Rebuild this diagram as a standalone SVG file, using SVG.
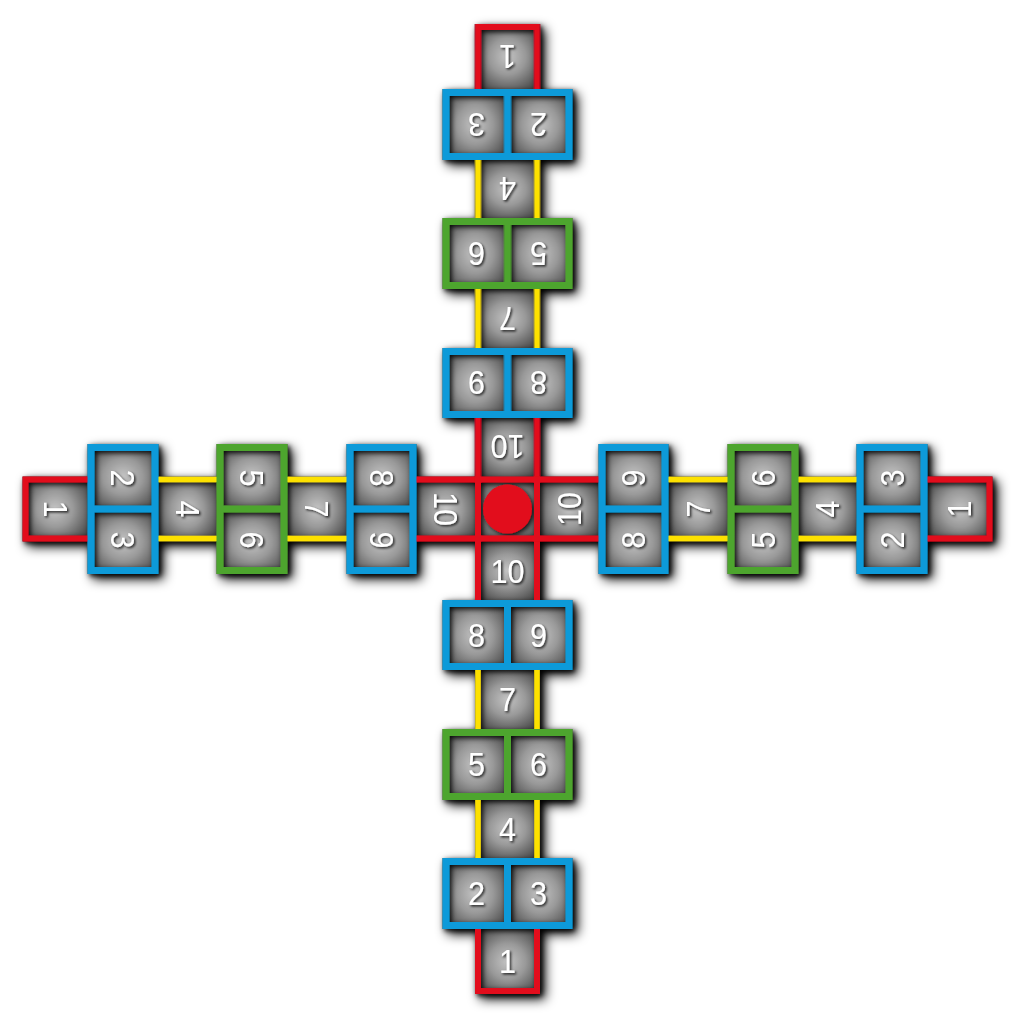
<svg xmlns="http://www.w3.org/2000/svg" width="1024" height="1023" viewBox="0 0 1024 1023">
<style>
.r{stroke:#e2081a;stroke-width:6;fill:none}
.y{stroke:#fde100;stroke-width:5.5;fill:none}
.b{stroke:#0a9ad9;stroke-width:7;fill:none}
.g{stroke:#4ea52e;stroke-width:7;fill:none}
.c{fill:url(#cg)}
text{font-family:"Liberation Sans",Arial,sans-serif;font-size:34px;fill:#fff;text-anchor:middle;transform-box:fill-box;transform-origin:center;transform:scaleX(0.9)}
</style>
<defs>
<radialGradient id="cg" cx="50%" cy="50%" r="62%">
<stop offset="0" stop-color="#c4c4c4"/>
<stop offset="0.45" stop-color="#999"/>
<stop offset="1" stop-color="#484848"/>
</radialGradient>
<filter id="os" x="-10%" y="-10%" width="120%" height="120%">
<feGaussianBlur in="SourceAlpha" stdDeviation="6"/>
<feOffset dx="5" dy="5"/>
</filter>
<filter id="ds" x="-10%" y="-10%" width="120%" height="120%">
<feDropShadow dx="2" dy="2" stdDeviation="2.4" flood-color="#000" flood-opacity="0.9"/>
</filter>
<filter id="ts" x="-10%" y="-10%" width="120%" height="120%">
<feDropShadow dx="1.5" dy="1.5" stdDeviation="1.2" flood-color="#000" flood-opacity="0.8"/>
</filter>
<g id="armS">
<rect x="-32.5" y="26" width="65" height="459"/>
<rect x="-65" y="91" width="130" height="70"/>
<rect x="-65" y="220" width="130" height="71"/>
<rect x="-65" y="349" width="130" height="71"/>
</g>
<g id="armF">
<rect class="c" x="-32.5" y="32" width="65" height="59"/>
<rect class="c" x="-65" y="91" width="65" height="70"/>
<rect class="c" x="0" y="91" width="65" height="70"/>
<rect class="c" x="-32.5" y="161" width="65" height="59"/>
<rect class="c" x="-65" y="220" width="65" height="71"/>
<rect class="c" x="0" y="220" width="65" height="71"/>
<rect class="c" x="-32.5" y="291" width="65" height="58"/>
<rect class="c" x="-65" y="349" width="65" height="71"/>
<rect class="c" x="0" y="349" width="65" height="71"/>
<rect class="c" x="-32.5" y="420" width="65" height="65"/>
</g>
<g id="armB">
<path class="r" d="M-29.5 26V95M29.5 26V95"/>
<path class="y" d="M-29.5 157V224M29.5 157V224M-29.5 287V353M29.5 287V353"/>
<path class="r" d="M-29.5 416V482H29.5V416"/>
<rect class="b" x="-61.5" y="94.5" width="123" height="63"/>
<path class="b" d="M0 94.5V157.5"/>
<rect class="g" x="-61.5" y="223.5" width="123" height="64"/>
<path class="g" d="M0 223.5V287.5"/>
<rect class="b" x="-61.5" y="352.5" width="123" height="64"/>
<path class="b" d="M0 352.5V416.5"/>
</g>
</defs>
<rect width="1024" height="1023" fill="#fff"/>
<g id="shadow" filter="url(#os)" fill="#000">
<rect x="475" y="476.5" width="65" height="65"/>
<use href="#armS" transform="translate(507.5 509)"/>
<use href="#armS" transform="translate(507.5 509) rotate(90)"/>
<use href="#armS" transform="translate(507.5 509) rotate(180)"/>
<use href="#armS" transform="translate(507.5 509) rotate(270)"/>
</g>
<g id="cells">
<rect class="c" x="475" y="476.5" width="65" height="65"/>
<use href="#armF" transform="translate(507.5 509)"/>
<use href="#armF" transform="translate(507.5 509) rotate(90)"/>
<use href="#armF" transform="translate(507.5 509) rotate(180)"/>
<use href="#armF" transform="translate(507.5 509) rotate(270)"/>
</g>
<g id="borders" filter="url(#ds)">
<use href="#armB" transform="translate(507.5 509)"/>
<use href="#armB" transform="translate(507.5 509) rotate(90)"/>
<use href="#armB" transform="translate(507.5 509) rotate(180)"/>
<use href="#armB" transform="translate(507.5 509) rotate(270)"/>
<rect class="r" x="478" y="479.5" width="59" height="59"/>
<circle id="center-dot" cx="507.5" cy="509" r="24.5" fill="#e2081a"/>
</g>
<g id="labels" filter="url(#ts)">
<g id="arm-bottom" transform="translate(507.5 509)">
<text x="0" y="74">10</text>
<text x="-31" y="138">8</text><text x="31" y="138">9</text>
<text x="0" y="202.5">7</text>
<text x="-31" y="267.5">5</text><text x="31" y="267.5">6</text>
<text x="0" y="332">4</text>
<text x="-31" y="396.5">2</text><text x="31" y="396.5">3</text>
<text x="0" y="464">1</text>
</g>
<g id="arm-left" transform="translate(507.5 509) rotate(90)">
<text x="0" y="74">10</text>
<text x="-31" y="138">8</text><text x="31" y="138">9</text>
<text x="0" y="202.5">7</text>
<text x="-31" y="267.5">5</text><text x="31" y="267.5">6</text>
<text x="0" y="332">4</text>
<text x="-31" y="396.5">2</text><text x="31" y="396.5">3</text>
<text x="0" y="464">1</text>
</g>
<g id="arm-top" transform="translate(507.5 509) rotate(180)">
<text x="0" y="74">10</text>
<text x="-31" y="138">8</text><text x="31" y="138">9</text>
<text x="0" y="202.5">7</text>
<text x="-31" y="267.5">5</text><text x="31" y="267.5">6</text>
<text x="0" y="332">4</text>
<text x="-31" y="396.5">2</text><text x="31" y="396.5">3</text>
<text x="0" y="464">1</text>
</g>
<g id="arm-right" transform="translate(507.5 509) rotate(270)">
<text x="0" y="74">10</text>
<text x="-31" y="138">8</text><text x="31" y="138">9</text>
<text x="0" y="202.5">7</text>
<text x="-31" y="267.5">5</text><text x="31" y="267.5">6</text>
<text x="0" y="332">4</text>
<text x="-31" y="396.5">2</text><text x="31" y="396.5">3</text>
<text x="0" y="464">1</text>
</g>
</g>
</svg>
